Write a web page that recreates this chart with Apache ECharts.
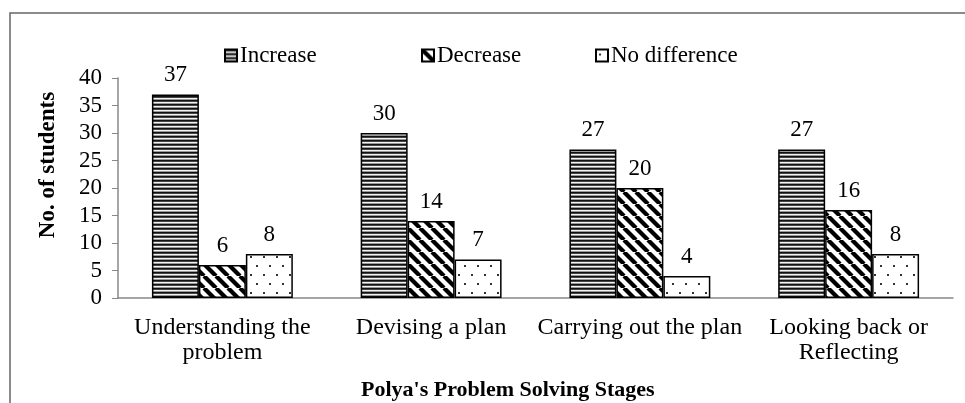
<!DOCTYPE html>
<html style="height: 100%">
<head>
  <meta charset="utf-8">
</head>
<body style="height: 100%; margin: 0; background: #fff">
  <div id="container" style="width: 965px; height: 403px"></div>

  <script type="text/javascript" src="https://cdn.jsdelivr.net/npm/echarts@6/dist/echarts.min.js"></script>
  <script type="text/javascript">
    var stages = ['Understanding the\nproblem', 'Devising a plan', 'Carrying out the plan', 'Looking back or\nReflecting'];
    var increase = [37, 30, 27, 27];
    var decrease = [6, 14, 20, 16];
    var noDifference = [8, 7, 4, 8];
    var yTicks = [0, 5, 10, 15, 20, 25, 30, 35, 40];

    var serif = '"Liberation Serif", "Times New Roman", serif';

    // fill patterns like the Excel ones
    function stripes() {
      var c = document.createElement('canvas');
      c.width = 4; c.height = 4;
      var g = c.getContext('2d');
      var rows = ['#111', '#444', '#f2f2f2', '#999'];
      rows.forEach(function (col, i) {
        g.fillStyle = col;
        g.fillRect(0, i, 4, 1);
      });
      return c;
    }
    function diagonal() {
      var c = document.createElement('canvas');
      c.width = 12; c.height = 12;
      var g = c.getContext('2d');
      g.fillStyle = '#fff';
      g.fillRect(0, 0, 12, 12);
      g.strokeStyle = '#000';
      g.lineWidth = 4.2;
      [-12, 0, 12].forEach(function (k) {
        g.beginPath();
        g.moveTo(k, 0);
        g.lineTo(k + 12, 12);
        g.stroke();
      });
      return c;
    }
    function dots() {
      var c = document.createElement('canvas');
      c.width = 13; c.height = 18;
      var g = c.getContext('2d');
      g.fillStyle = '#fff';
      g.fillRect(0, 0, 13, 18);
      g.fillStyle = '#333';
      g.fillRect(3, 4, 2, 2);
      g.fillRect(9, 13, 2, 2);
      return c;
    }

    var patterns = [stripes(), diagonal(), dots()];
    var names = ['Increase', 'Decrease', 'No difference'];
    var values = [increase, decrease, noDifference];

    var seriesList = names.map(function (name, i) {
      return {
        type: 'bar',
        name: name,
        data: values[i],
        barGap: 0,
        barCategoryGap: '32.5%',
        itemStyle: {
          color: { image: patterns[i], repeat: 'repeat' },
          borderColor: '#000',
          borderWidth: 1.5
        },
        label: {
          show: true,
          position: 'top',
          distance: 8,
          color: '#000',
          fontFamily: serif,
          fontSize: 23
        }
      };
    });

    var legendLeft = [219, 416, 590];
    var legends = names.map(function (name, i) {
      return {
        data: [name],
        left: legendLeft[i],
        top: 39,
        icon: 'rect',
        itemWidth: 12,
        itemHeight: 12,
        itemGap: 4,
        textStyle: { color: '#000', fontFamily: serif, fontSize: 23, padding: [0, 0, 0, -2] }
      };
    });

    var myChart = echarts.init(document.getElementById('container'), null, { renderer: 'canvas' });
    var option = {
      backgroundColor: '#fff',
      animation: false,
      title: {
        text: "Polya's Problem Solving Stages",
        left: 356,
        top: 374,
        textStyle: { color: '#000', fontFamily: serif, fontSize: 22, fontWeight: 'bold' }
      },
      legend: legends,
      grid: { left: 118, right: 12, top: 78, bottom: 105 },
      xAxis: {
        type: 'category',
        data: stages,
        axisLine: { lineStyle: { color: '#888', width: 1.5 } },
        axisTick: { show: false },
        axisLabel: { interval: 0, color: '#000', fontFamily: serif, fontSize: 24, lineHeight: 25, margin: 17 }
      },
      yAxis: {
        type: 'value',
        min: yTicks[0],
        max: yTicks[yTicks.length - 1],
        interval: 5,
        name: 'No. of students',
        nameLocation: 'middle',
        nameRotate: 90,
        nameGap: 58,
        nameTextStyle: { color: '#000', fontFamily: serif, fontSize: 23, fontWeight: 'bold', padding: [0, 0, 0, 46] },
        splitLine: { show: false },
        axisLine: { show: true, lineStyle: { color: '#888', width: 1.5 } },
        axisTick: { show: true, length: 6, lineStyle: { color: '#888' } },
        axisLabel: { color: '#000', fontFamily: serif, fontSize: 23, margin: 16 }
      },
      graphic: [{
        type: 'rect',
        silent: true,
        shape: { x: 10, y: 13, width: 1000, height: 500 },
        style: { fill: null, stroke: '#666', lineWidth: 1.5 }
      }],
      series: seriesList
    };
    myChart.setOption(option);
  </script>
</body>
</html>
